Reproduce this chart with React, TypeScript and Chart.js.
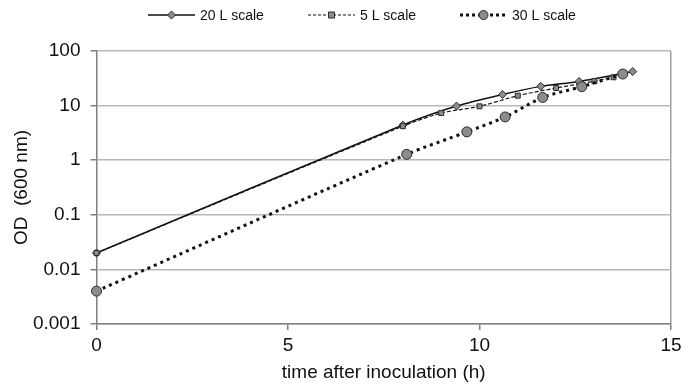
import React, { useEffect, useRef } from "react";
import { Chart, registerables } from "chart.js";

Chart.register(...registerables);

const seriesNames = ["20 L scale", "5 L scale", "30 L scale"];

const time20 = [0, 8.0, 9.4, 10.6, 11.6, 12.6, 14.0];
const od20 = [0.02, 4.4, 9.8, 16.0, 22.5, 27.7, 42];

const time5 = [0, 8.0, 9.0, 10.0, 11.0, 12.0, 13.0, 13.5];
const od5 = [0.02, 4.2, 7.3, 9.7, 15.2, 21, 28, 33];

const time30 = [0, 8.1, 9.67, 10.67, 11.65, 12.67, 13.74];
const od30 = [0.004, 1.28, 3.3, 6.2, 14.1, 22.2, 37.9];

const yTicks = [0.001, 0.01, 0.1, 1, 10, 100];
const yTickLabels = ["0.001", "0.01", "0.1", "1", "10", "100"];
const xTicks = [0, 5, 10, 15];

const xTitle = "time after inoculation (h)";
const yTitle = "OD  (600 nm)";

const FONT = "'Liberation Sans', Arial, sans-serif";
const MARKER_FILL = "#8c8c8c";
const MARKER_STROKE = "#2a2a2a";

function toPoints(xs: number[], ys: number[]) {
  return xs.map((x, i) => ({ x, y: ys[i] }));
}

const legendPlugin = {
  id: "customLegend",
  afterDraw(chart: any) {
    const ctx = chart.ctx as CanvasRenderingContext2D;
    const y = 15;
    const items = [
      { x0: 148, dash: [] as number[], width: 1.5, marker: "diamond" },
      { x0: 308, dash: [3, 2], width: 1.2, marker: "square" },
      { x0: 460, dash: [3, 3], width: 3, marker: "circle" },
    ];
    ctx.save();
    items.forEach((it, i) => {
      ctx.beginPath();
      ctx.setLineDash(it.dash);
      ctx.lineWidth = it.width;
      ctx.strokeStyle = "#111";
      ctx.moveTo(it.x0, y);
      ctx.lineTo(it.x0 + 47, y);
      ctx.stroke();
      ctx.setLineDash([]);
      const cx = it.x0 + 23.5;
      ctx.fillStyle = MARKER_FILL;
      ctx.strokeStyle = MARKER_STROKE;
      ctx.lineWidth = 1;
      ctx.beginPath();
      if (it.marker === "diamond") {
        ctx.moveTo(cx, y - 4);
        ctx.lineTo(cx + 4, y);
        ctx.lineTo(cx, y + 4);
        ctx.lineTo(cx - 4, y);
        ctx.closePath();
      } else if (it.marker === "square") {
        ctx.rect(cx - 3, y - 3, 6, 6);
      } else {
        ctx.arc(cx, y, 4.5, 0, Math.PI * 2);
      }
      ctx.fill();
      ctx.stroke();
      ctx.fillStyle = "#111";
      ctx.font = `14px ${FONT}`;
      ctx.textBaseline = "middle";
      ctx.textAlign = "left";
      ctx.fillText(seriesNames[i], it.x0 + 52, y + 1);
    });
    ctx.restore();
  },
};

export default function App() {
  const canvasRef = useRef<HTMLCanvasElement | null>(null);

  useEffect(() => {
    document.body.style.margin = "0";
    const canvas = canvasRef.current;
    if (!canvas) return;
    const chart = new Chart(canvas, {
      type: "line",
      data: {
        datasets: [
          {
            label: seriesNames[0],
            data: toPoints(time20, od20),
            borderColor: "#111",
            borderWidth: 1.5,
            pointStyle: "rectRot",
            pointRadius: 4,
            pointBackgroundColor: MARKER_FILL,
            pointBorderColor: MARKER_STROKE,
            pointBorderWidth: 1,
            tension: 0.3,
            clip: false,
            order: 2,
          },
          {
            label: seriesNames[1],
            data: toPoints(time5, od5),
            borderColor: "#1a1a1a",
            borderWidth: 1.2,
            borderDash: [4, 2],
            pointStyle: "rect",
            pointRadius: 3.5,
            pointBackgroundColor: MARKER_FILL,
            pointBorderColor: MARKER_STROKE,
            pointBorderWidth: 1,
            tension: 0.3,
            clip: false,
            order: 1,
          },
          {
            label: seriesNames[2],
            data: toPoints(time30, od30),
            borderColor: "#111",
            borderWidth: 3,
            borderDash: [3, 4],
            pointStyle: "circle",
            pointRadius: 5,
            pointBackgroundColor: MARKER_FILL,
            pointBorderColor: MARKER_STROKE,
            pointBorderWidth: 1,
            tension: 0.3,
            clip: false,
            order: 0,
          },
        ],
      },
      options: {
        animation: false,
        responsive: false,
        events: [],
        layout: { padding: { top: 51, right: 20, left: 0, bottom: 0 } },
        plugins: {
          legend: { display: false },
          tooltip: { enabled: false },
        },
        scales: {
          x: {
            type: "linear",
            min: 0,
            max: 15,
            afterBuildTicks: (s: any) => {
              s.ticks = xTicks.map((v) => ({ value: v }));
            },
            afterFit: (s: any) => {
              s.height = 63;
            },
            ticks: {
              color: "#111",
              font: { family: FONT, size: 19 },
              padding: 4,
              maxRotation: 0,
            },
            grid: {
              drawOnChartArea: true,
              color: (c: any) => (c.tick && c.tick.value === 15 ? "#a0a0a0" : "rgba(0,0,0,0)"),
              lineWidth: 1.5,
              tickColor: "#808080",
              tickLength: 6,
            },
            border: { display: true, color: "#808080", width: 1.5 },
            title: {
              display: true,
              text: xTitle,
              color: "#111",
              font: { family: FONT, size: 19 },
              padding: { top: 0, bottom: 3 },
            },
          },
          y: {
            type: "logarithmic",
            min: 0.001,
            max: 100,
            afterBuildTicks: (s: any) => {
              s.ticks = yTicks.map((v) => ({ value: v }));
            },
            afterFit: (s: any) => {
              s.width = 96.5;
            },
            ticks: {
              color: "#111",
              font: { family: FONT, size: 19 },
              padding: 10,
              callback: (v: any) => {
                const idx = yTicks.findIndex((t) => Math.abs(t - Number(v)) / t < 1e-6);
                return idx >= 0 ? yTickLabels[idx] : "";
              },
            },
            grid: {
              color: "#b8b8b8",
              lineWidth: 1.5,
              tickColor: "#808080",
              tickLength: 6,
            },
            border: { display: true, color: "#808080", width: 1.5 },
            title: {
              display: true,
              text: yTitle,
              color: "#111",
              font: { family: FONT, size: 19 },
              padding: { top: 10, bottom: 0 },
            },
          },
        },
      },
      plugins: [legendPlugin],
    } as any);
    return () => chart.destroy();
  }, []);

  return (
    <div style={{ width: 691, height: 387 }}>
      <canvas ref={canvasRef} width={691} height={387} style={{ display: "block" }} />
    </div>
  );
}
